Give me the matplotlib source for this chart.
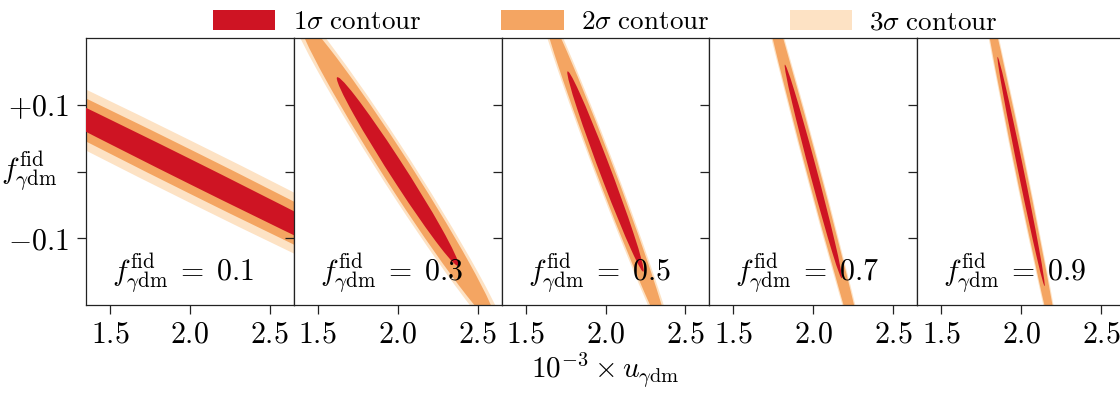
import numpy as np
import matplotlib
matplotlib.use("Agg")
import matplotlib.pyplot as plt
from matplotlib.patches import Ellipse, Patch

plt.rcParams['mathtext.fontset'] = 'cm'
plt.rcParams['font.family'] = ['DejaVu Serif']

# ---- data ----
f_fid = [0.1, 0.3, 0.5, 0.7, 0.9]
u_center = [2.0, 2.0, 2.0, 2.0, 2.0]        # 10^-3 u_gdm of contour centre
df_center = [0.0, 0.0, 0.0, 0.0, 0.0]       # f - f_fid of contour centre
# ratio of f-extent to u-extent of contours in each panel
slope = [0.1195, 0.371, 0.628, 0.894, 1.16]
# u-extent (half size) of the 1, 2, 3 sigma contours
extent_u = [[2.00, 2.60, 3.20],
            [0.381, 0.62, 0.70],
            [0.239, 0.40, 0.45],
            [0.179, 0.36, 0.40],
            [0.148, 0.26, 0.29]]
# horizontal half width at the contour centre, 1, 2, 3 sigma
halfwidth_u = [[0.159, 0.279, 0.392],
               [0.060, 0.105, 0.125],
               [0.038, 0.060, 0.070],
               [0.024, 0.042, 0.049],
               [0.018, 0.034, 0.040]]
levels = [r'$1\sigma\ \mathrm{contour}$', r'$2\sigma\ \mathrm{contour}$', r'$3\sigma\ \mathrm{contour}$']
colors = ['#ce1423', '#f4a562', '#fde2c4']
xticks = [1.5, 2.0, 2.5]
xticklabels = [r'$1.5$', r'$2.0$', r'$2.5$']
yticks = [-0.1, 0.0, 0.1]
yticklabels = [r'$-0.1$', '', r'$+0.1$']
xlim = (1.35, 2.65)
ylim = (-0.2, 0.2)

W, H = 1120, 394
fig = plt.figure(figsize=(W / 100, H / 100), dpi=100)
left_px, top_px, bot_px, pw = 86, 38, 305, 207.8
axes = []
for i in range(len(f_fid)):
    ax = fig.add_axes([(left_px + i * pw) / W, 1 - bot_px / H, pw / W, (bot_px - top_px) / H])
    axes.append(ax)
    for k in [2, 1, 0]:
        au = extent_u[i][k]
        af = slope[i] * au
        rho = -np.sqrt(1 - (halfwidth_u[i][k] / au) ** 2)
        C = np.array([[au ** 2, rho * au * af], [rho * au * af, af ** 2]])
        vals, vecs = np.linalg.eigh(C)
        ang = np.degrees(np.arctan2(vecs[1, 1], vecs[0, 1]))
        e = Ellipse((u_center[i], df_center[i]), 2 * np.sqrt(vals[1]), 2 * np.sqrt(vals[0]),
                    angle=ang, facecolor=colors[k], edgecolor='none', zorder=1 + (2 - k))
        ax.add_patch(e)
    ax.set_xlim(*xlim)
    ax.set_ylim(*ylim)
    ax.set_xticks(xticks)
    ax.set_xticklabels(xticklabels, fontsize=21.5)
    ax.set_yticks(yticks)
    if i == 0:
        ax.set_yticklabels(yticklabels, fontsize=21.5)
    else:
        ax.set_yticklabels([])
    ax.tick_params(axis='both', direction='out', length=6.5, width=0.9, color='#222222')
    ax.tick_params(axis='x', pad=5)
    ax.tick_params(axis='y', pad=6)
    for s in ax.spines.values():
        s.set_linewidth(0.9)
        s.set_color('#222222')
    ax.text(0.125, 0.035, r'$f^{\rm fid}_{\gamma{\rm dm}}\;=\;%.1f$' % f_fid[i], transform=ax.transAxes,
            fontsize=21.5, ha='left', va='bottom', zorder=10)

axes[0].set_ylabel(r'$f^{\rm fid}_{\gamma{\rm dm}}$', fontsize=21.5, rotation=0, ha='center', va='center')
axes[0].yaxis.set_label_coords(-0.275, 0.5)
axes[2].set_xlabel(r'$10^{-3} \times u_{\gamma{\rm dm}}$', fontsize=21, labelpad=1)

handles = [Patch(facecolor=c, edgecolor='none') for c in colors]
axes[2].legend(handles, levels, loc='lower center', bbox_to_anchor=(0.5, 1.0), ncol=3,
               frameon=False, fontsize=19.5, handlelength=2.3, handleheight=0.8,
               handletextpad=0.65, columnspacing=2.95, borderaxespad=-0.3)

fig.savefig('out.png', dpi=100)
